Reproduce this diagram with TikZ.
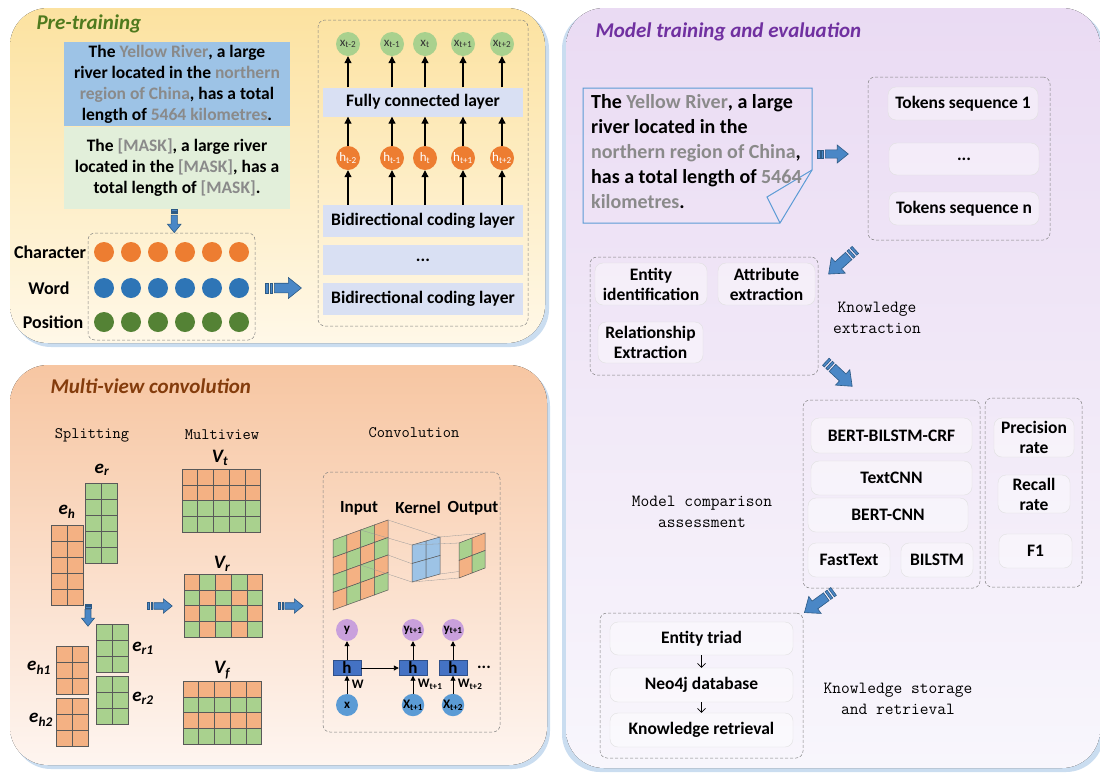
\documentclass[tikz,border=0pt]{standalone}
\usepackage{fontspec}
\setmainfont{Carlito}
\usetikzlibrary{positioning,calc,arrows.meta}

\definecolor{preTop}{HTML}{FCE2A0}
\definecolor{preBot}{HTML}{FFF8E8}
\definecolor{mvTop}{HTML}{F7C6A2}
\definecolor{mvBot}{HTML}{FEF5F0}
\definecolor{mtTop}{HTML}{EADBF3}
\definecolor{mtBot}{HTML}{F8F6FC}
\definecolor{glowblue}{HTML}{CADDF0}
\definecolor{preGreen}{HTML}{4F7A1E}
\definecolor{mvBrown}{HTML}{843C0C}
\definecolor{mtPurple}{HTML}{7030A0}
\definecolor{boxblue}{HTML}{9DC3E6}
\definecolor{boxgreen}{HTML}{E2EFDA}
\definecolor{hlgray}{HTML}{8A8A8A}
\definecolor{layerblue}{HTML}{D9E0F3}
\definecolor{dotorange}{HTML}{ED7D31}
\definecolor{dotblue}{HTML}{2E75B6}
\definecolor{dotgreen}{HTML}{548235}
\definecolor{lightgreen}{HTML}{A9D18E}
\definecolor{gridorange}{HTML}{F4B183}
\definecolor{gridgreen}{HTML}{A9D18E}
\definecolor{kernelblue}{HTML}{9DC3E6}
\definecolor{rnnpink}{HTML}{C9A0DC}
\definecolor{rnnblue}{HTML}{5B9BD5}
\definecolor{hblue}{HTML}{4472C4}
\definecolor{arrowblue}{HTML}{4A87C6}
\definecolor{arrowedge}{HTML}{2C5A85}
\definecolor{frameblue}{HTML}{5B9BD5}
\colorlet{cell0}{gridorange}
\colorlet{cell1}{gridgreen}

\newcommand{\gtxt}[1]{\textcolor{hlgray}{#1}}
\newcommand{\fsz}[2]{\fontsize{#1}{#2}\selectfont}

\tikzset{
  panel/.style={rounded corners=38pt},
  dashbox/.style={draw=black!50, densely dashed, rounded corners=7pt, line width=0.5pt},
  itembox/.style={draw=black!12, fill=white, fill opacity=0.4, text opacity=1,
    rounded corners=8pt, font=\bfseries\fsz{17.5}{20}, align=center, inner sep=2pt},
  layer/.style={fill=layerblue, minimum width=200pt, font=\bfseries\fsz{17.5}{20}},
  sidelbl/.style={font=\ttfamily\fsz{16}{21}, align=center},
  title/.style={anchor=west, font=\bfseries\itshape\fsz{21}{24}},
  rowlbl/.style={font=\bfseries\fsz{18}{20}},
  dot/.style={circle, minimum size=20pt, inner sep=0pt},
  tokdot/.style={circle, fill=lightgreen, minimum size=24pt, inner sep=0pt,
    font=\fsz{13}{14}, text=black!80},
  hdot/.style={circle, fill=dotorange, minimum size=24pt, inner sep=0pt,
    font=\fsz{13}{14}, text=white},
  up/.style={-{Triangle[length=7pt,width=7pt]}, line width=1.1pt},
  gridcell/.style={draw=black!65, line width=0.5pt},
  veclbl/.style={font=\bfseries\itshape\fsz{19}{21}},
  projline/.style={draw=black!40, line width=0.3pt},
  rnnarrow/.style={-{Triangle[length=5pt,width=5pt]}, line width=0.9pt},
  ynode/.style={circle, fill=rnnpink, minimum size=22pt, inner sep=0pt, font=\bfseries\fsz{13}{14}},
  xnode/.style={circle, fill=rnnblue, minimum size=22pt, inner sep=0pt, font=\bfseries\fsz{13}{14}},
  hnode/.style={fill=hblue, draw=hblue!70!black, minimum width=28pt, minimum height=15pt,
    inner sep=0pt, font=\bfseries\fsz{17}{17}},
  fatarrow/.pic={
    \filldraw[fill=arrowblue, draw=arrowedge, line width=0.6pt]
      (-9,-4.8) -- (5,-4.8) -- (5,-10.5) -- (18,0) -- (5,10.5) -- (5,4.8) -- (-9,4.8) -- cycle;
    \filldraw[fill=arrowblue, draw=arrowedge, line width=0.6pt] (-18,-4.8) rectangle (-15.5,4.8);
    \filldraw[fill=arrowblue, draw=arrowedge, line width=0.6pt] (-13.5,-4.8) rectangle (-11,4.8);
  }
}

\begin{document}
\begin{tikzpicture}[x=1pt, y=-1pt]
\useasboundingbox (0,0) rectangle (1100,772);

% background panels
\fill[glowblue, panel] (13,11) rectangle (549,347);
\fill[panel, top color=preTop, bottom color=preBot] (10,8) rectangle (545,343);
\fill[glowblue, panel] (13,368) rectangle (550,769);
\fill[panel, top color=mvTop, bottom color=mvBot] (10,365) rectangle (547,765);
\fill[glowblue, panel] (562,11) rectangle (1104,772);
\fill[panel, top color=mtTop, bottom color=mtBot] (566,8) rectangle (1100,768);

% ---------------- pre-training ----------------
\node[title, text=preGreen] (pretitle) at (33,24) {Pre-training};
\node[fill=boxblue, minimum width=226pt, minimum height=82pt, align=center,
  font=\bfseries\fsz{17.5}{21}] (orig) at (177,84)
  {The \gtxt{Yellow River}, a large\\ river located in the \gtxt{northern}\\
   \gtxt{region of China}, has a total\\ length of \gtxt{5464 kilometres}.};
\node[fill=boxgreen, minimum width=226pt, minimum height=82pt, align=center,
  font=\bfseries\fsz{17.5}{21}, below=0pt of orig] (mask)
  {The \gtxt{[MASK]}, a large river\\ located in the \gtxt{[MASK]}, has a\\
   total length of \gtxt{[MASK]}.};

\node[dashbox, minimum width=167pt, minimum height=107pt] (emb) at (171.5,286.5) {};
\foreach \i in {0,...,5} {
  \node[dot, fill=dotorange] (ch\i) at (104+27*\i,252) {};
  \node[dot, fill=dotblue] (wd\i) at (104+27*\i,288) {};
  \node[dot, fill=dotgreen] (ps\i) at (104+27*\i,322) {};
}
\node[rowlbl] (lchar) at (50,252) {Character};
\node[rowlbl] (lword) at (49,288) {Word};
\node[rowlbl] (lpos) at (53,322) {Position};
\pic[rotate=-90, scale=0.65] at ($(mask.south)!0.5!(emb.north)$) {fatarrow};

\node[dashbox, minimum width=210pt, minimum height=306pt] (enc) at (423,173) {};
\node[layer, minimum height=29pt] (fc) at (423,102) {Fully connected layer};
\node[layer, minimum height=32pt] (bi1) at (423,221) {Bidirectional coding layer};
\node[layer, minimum height=30pt] (bidots) at (423,260) {...};
\node[layer, minimum height=32pt] (bi2) at (423,299) {Bidirectional coding layer};
\foreach \n/\x/\s in {1/348/t-2, 2/392/t-1, 3/425/t, 4/463/t+1, 5/502/t+2} {
  \node[tokdot] (xt\n) at (\x,44) {x\textsubscript{\s}};
  \node[hdot] (ht\n) at (\x,158) {h\textsubscript{\s}};
  \draw[up] (fc.north -| xt\n) -- (xt\n);
  \draw[up] (ht\n) -- (fc.south -| ht\n);
  \draw[up] (bi1.north -| ht\n) -- (ht\n);
}
\pic at ($(emb.east |- wd0)!0.45!(enc.west |- wd0)$) {fatarrow};

% ---------------- multi-view convolution ----------------
\node[title, text=mvBrown] (mvtitle) at (47,386) {Multi-view convolution};
\node[sidelbl] (split) at (92,435) {Splitting};
\node[sidelbl] (mview) at (222,435) {Multiview};
\node[sidelbl] (conv) at (414,433) {Convolution};

% splitting
\foreach \i in {0,1} \foreach \j in {0,...,4} {
  \filldraw[gridcell, fill=gridgreen] (85+16*\i,483+16*\j) rectangle ++(16,16);
  \filldraw[gridcell, fill=gridorange] (51+16*\i,525+16*\j) rectangle ++(16,16);
}
\foreach \i in {0,1} \foreach \j in {0,1,2} {
  \filldraw[gridcell, fill=gridgreen] (96+16*\i,624+16*\j) rectangle ++(16,16);
  \filldraw[gridcell, fill=gridgreen] (96+16*\i,676+16*\j) rectangle ++(16,16);
  \filldraw[gridcell, fill=gridorange] (56+16*\i,646+16*\j) rectangle ++(16,16);
  \filldraw[gridcell, fill=gridorange] (56+16*\i,698+16*\j) rectangle ++(16,16);
}
\node[veclbl] (er) at (102,470) {e\textsubscript{r}};
\node[veclbl] (eh) at (67,512) {e\textsubscript{h}};
\node[veclbl] (er1) at (143,648) {e\textsubscript{r1}};
\node[veclbl] (er2) at (143,698) {e\textsubscript{r2}};
\node[veclbl] (eh1) at (39,668) {e\textsubscript{h1}};
\node[veclbl] (eh2) at (41,720) {e\textsubscript{h2}};
\pic[rotate=-90, scale=0.62] at (88,615) {fatarrow};

% multiview grids
\foreach \i in {0,...,4} \foreach \j in {0,...,3} {
  \pgfmathtruncatemacro\k{\j>1}
  \filldraw[gridcell, fill=cell\k] (182+15.7*\i,469+15.75*\j) rectangle ++(15.7,15.75);
  \pgfmathtruncatemacro\k{mod(\i+\j,2)}
  \filldraw[gridcell, fill=cell\k] (184+15.7*\i,574+15.75*\j) rectangle ++(15.7,15.75);
  \pgfmathtruncatemacro\k{mod(\j,2)}
  \filldraw[gridcell, fill=cell\k] (183+15.7*\i,681+15.75*\j) rectangle ++(15.7,15.75);
}
\node[veclbl] (vt) at (220,458) {V\textsubscript{t}};
\node[veclbl] (vr) at (222,564) {V\textsubscript{r}};
\node[veclbl] (vf) at (222,670) {V\textsubscript{f}};
\pic[scale=0.68] at (160,606) {fatarrow};
\pic[scale=0.68] at (291,606) {fatarrow};

% convolution
\node[dashbox, minimum width=177pt, minimum height=260pt] (convbox) at (411.5,602) {};
\node[font=\bfseries\fsz{17}{19}] (lin) at (359,508) {Input};
\node[font=\bfseries\fsz{17}{19}] (lker) at (418,508) {Kernel};
\node[font=\bfseries\fsz{17}{19}] (lout) at (473,508) {Output};
\begin{scope}[shift={(333,540)}, x={(13.75pt,5pt)}, y={(0pt,-17.5pt)}]
  \foreach \i in {0,...,3} \foreach \j in {0,...,3} {
    \pgfmathtruncatemacro\k{mod(\i+\j+1,2)}
    \filldraw[gridcell, fill=cell\k] (\i,\j) -- ++(1,0) -- ++(0,1) -- ++(-1,0) -- cycle;
  }
  \coordinate (inA) at (2,0); \coordinate (inB) at (4,0);
  \coordinate (inC) at (2,2); \coordinate (inD) at (4,2);
\end{scope}
\begin{scope}[shift={(412,545)}, x={(14pt,4pt)}, y={(0pt,-18.5pt)}]
  \draw[projline] (inA) -- (0,0) (inB) -- (2,0) (inC) -- (0,2) (inD) -- (2,2);
  \foreach \i in {0,1} \foreach \j in {0,1}
    \filldraw[gridcell, fill=kernelblue] (\i,\j) -- ++(1,0) -- ++(0,1) -- ++(-1,0) -- cycle;
  \coordinate (kA) at (0,0); \coordinate (kB) at (2,0);
  \coordinate (kC) at (0,2); \coordinate (kD) at (2,2);
\end{scope}
\begin{scope}[shift={(459,543)}, x={(13pt,5pt)}, y={(0pt,-17.5pt)}]
  \draw[projline] (kA) -- (0,0) (kB) -- (2,0) (kC) -- (0,2) (kD) -- (2,2);
  \foreach \i in {0,1} \foreach \j in {0,1} {
    \pgfmathtruncatemacro\k{mod(\i+\j+1,2)}
    \filldraw[gridcell, fill=cell\k] (\i,\j) -- ++(1,0) -- ++(0,1) -- ++(-1,0) -- cycle;
  }
\end{scope}

\foreach \n/\x/\yl/\xl/\wl in {1/347/y/x/W,
    2/413/y\textsubscript{t+1}/X\textsubscript{t+1}/W\textsubscript{t+1},
    3/453/y\textsubscript{t+1}/X\textsubscript{t+2}/W\textsubscript{t+2}} {
  \node[ynode] (ry\n) at (\x,630) {\yl};
  \node[hnode] (rh\n) at (\x,668) {h};
  \node[xnode] (rx\n) at (\x,705) {\xl};
  \draw[rnnarrow] (rx\n) -- (rh\n) node[midway, right=1pt, font=\bfseries\fsz{13}{14}] {\wl};
  \draw[rnnarrow] (rh\n) -- (ry\n);
}
\draw[rnnarrow] (rh1) -- (rh2);
\node[font=\bfseries\fsz{17}{17}] (rdots) at (484,667) {...};

% ---------------- model training and evaluation ----------------
\node[title, text=mtPurple] (mttitle) at (592,32) {Model training and evaluation};

\draw[frameblue, line width=1pt] (583,88) -- (812,88) -- (812,170) -- (780,223) -- (583,223) -- cycle;
\draw[frameblue, line width=1pt] (812,170) -- (767,197) -- (780,223);
\node[anchor=north west, align=left, inner sep=0pt, font=\bfseries\fsz{20}{25}] (src) at (591,94)
  {The \gtxt{Yellow River}, a large\\ river located in the\\ \gtxt{northern region of China},\\
   has a total length of \gtxt{5464}\\ \gtxt{kilometres}.};

\node[dashbox, minimum width=182pt, minimum height=163pt] (tokbox) at (959,158.5) {};
\node[itembox, minimum width=150pt, minimum height=33pt] (tok1) at (963,103.5) {Tokens sequence 1};
\node[itembox, minimum width=150pt, minimum height=32pt] (tokd) at (964,159) {...};
\node[itembox, minimum width=150pt, minimum height=33pt] (tokn) at (964,208.5) {Tokens sequence n};
\pic[scale=0.85] at (833,154) {fatarrow};

\node[dashbox, minimum width=228pt, minimum height=118pt] (kebox) at (704,316) {};
\node[itembox, minimum width=112pt, minimum height=42pt] (ent) at (651,284) {Entity\\ identification};
\node[itembox, minimum width=97pt, minimum height=42pt] (attr) at (766.5,284) {Attribute\\ extraction};
\node[itembox, minimum width=105pt, minimum height=41pt] (rel) at (650.5,342.5) {Relationship\\ Extraction};
\node[sidelbl, font=\ttfamily\fsz{17}{21}] (kelbl) at (877,318) {Knowledge\\ extraction};
\pic[rotate=222] at (842,262) {fatarrow};

\node[dashbox, minimum width=177pt, minimum height=188pt] (mcbox) at (891.5,494) {};
\node[dashbox, minimum width=97pt, minimum height=189pt] (evbox) at (1033.5,492.5) {};
\node[itembox, minimum width=161pt, minimum height=35pt] (bbc) at (891.5,435.5) {BERT-BILSTM-CRF};
\node[itembox, minimum width=161pt, minimum height=34pt] (tcnn) at (891.5,478) {TextCNN};
\node[itembox, minimum width=160pt, minimum height=34pt] (bcnn) at (888,515) {BERT-CNN};
\node[itembox, minimum width=82pt, minimum height=34pt] (ftxt) at (849,560) {FastText};
\node[itembox, minimum width=72pt, minimum height=34pt] (bil) at (937,560) {BILSTM};
\node[itembox, minimum width=80pt, minimum height=39pt] (prec) at (1034,437.5) {Precision\\ rate};
\node[itembox, minimum width=72pt, minimum height=38pt] (rec) at (1034,494) {Recall\\ rate};
\node[itembox, minimum width=73pt, minimum height=34pt] (fone) at (1035.5,551) {F1};
\node[sidelbl, font=\ttfamily\fsz{17}{21}] (mclbl) at (702,512) {Model comparison\\ assessment};
\pic[rotate=-43] at (839,374) {fatarrow};

\node[dashbox, minimum width=203pt, minimum height=145pt] (ksbox) at (701.5,685.5) {};
\node[itembox, minimum width=183pt, minimum height=33pt] (triad) at (701.5,638.5) {Entity triad};
\node[itembox, minimum width=183pt, minimum height=34pt] (neo) at (701.5,685) {Neo4j database};
\node[itembox, minimum width=183pt, minimum height=34pt] (kret) at (701.5,730) {Knowledge retrieval};
\draw[-{Straight Barb[length=4pt]}, line width=0.7pt] (triad) -- (neo);
\draw[-{Straight Barb[length=4pt]}, line width=0.7pt] (neo) -- (kret);
\node[sidelbl, font=\ttfamily\fsz{17}{21}] (kslbl) at (898,699) {Knowledge storage\\ and retrieval};
\pic[rotate=216] at (819,602) {fatarrow};
\end{tikzpicture}
\end{document}
